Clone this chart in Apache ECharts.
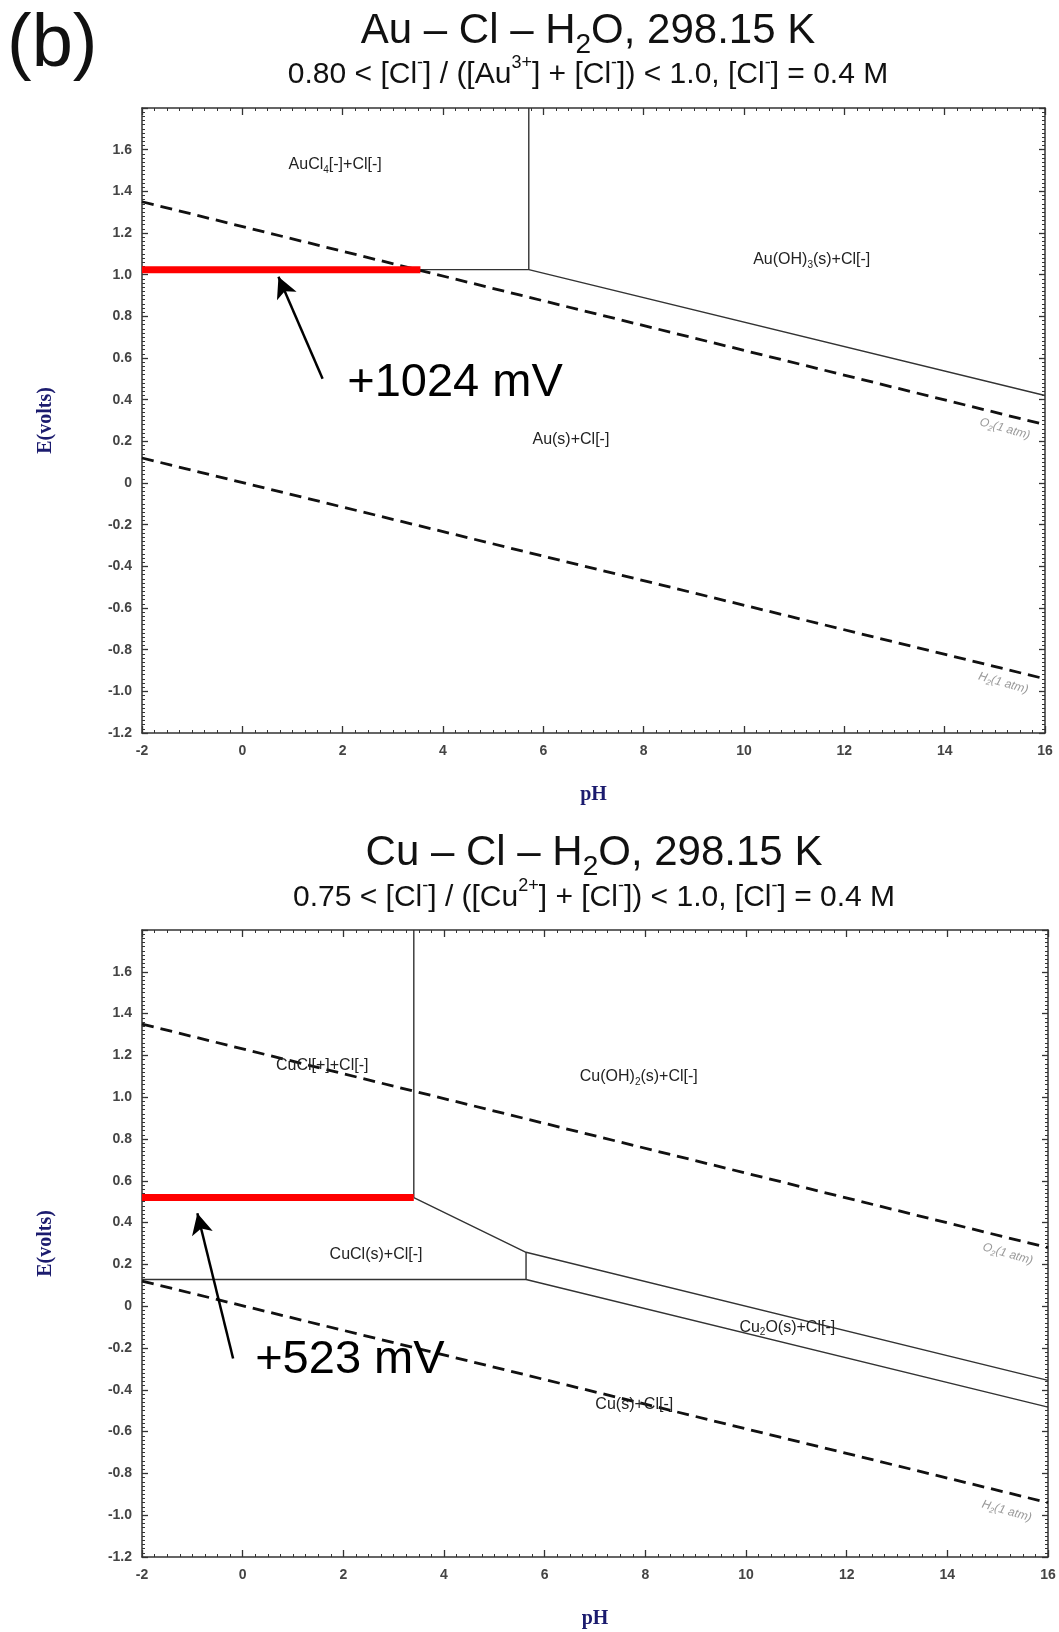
<!DOCTYPE html>
<html>
<head>
<meta charset="utf-8">
<script src="https://cdn.jsdelivr.net/npm/echarts@6/dist/echarts.min.js"></script>
<style>
  html, body { margin: 0; padding: 0; background: #fff; }
  #chart { width: 1059px; height: 1632px; }
</style>
</head>
<body>
<div id="chart"></div>
<script>
  // shared axis ranges
  const phMin = -2
  const phMax = 16
  const eMin = -1.2
  const eMax = 1.8

  // Au - Cl - H2O
  const auO2Line = [[-2, 1.35], [16, 0.28]]
  const auH2Line = [[-2, 0.12], [16, -0.94]]
  const auBoundary = [[3.55, 1.024], [5.71, 1.024], [16, 0.42]]
  const auVertical = [[5.71, 1.024], [5.71, 1.8]]
  const auRedLine = [[-2, 1.024], [3.55, 1.024]]
  const auArrow = [[1.6, 0.5], [0.72, 0.99]]
  const auRegionText = ['AuCl{sub|4}[-]+Cl[-]', 'Au(OH){sub|3}(s)+Cl[-]', 'Au(s)+Cl[-]']
  const auRegionPos = [[1.85, 1.53], [11.35, 1.07], [6.55, 0.21]]
  const auGasPos = [[15.2, 0.26], [15.17, -0.96]]
  const auCallout = ['+1024 mV']
  const auCalloutPos = [[4.24, 0.48]]

  // Cu - Cl - H2O
  const cuO2Line = [[-2, 1.35], [16, 0.28]]
  const cuH2Line = [[-2, 0.12], [16, -0.94]]
  const cuVertical = [[3.4, 0.52], [3.4, 1.8]]
  const cuUpper = [[3.4, 0.52], [5.63, 0.258], [16, -0.355]]
  const cuStep = [[5.63, 0.258], [5.63, 0.128]]
  const cuLower = [[-2, 0.128], [5.63, 0.128], [16, -0.483]]
  const cuRedLine = [[-2, 0.52], [3.4, 0.52]]
  const cuArrow = [[-0.19, -0.25], [-0.9, 0.445]]
  const cuRegionText = ['CuCl[+]+Cl[-]', 'Cu(OH){sub|2}(s)+Cl[-]', 'CuCl(s)+Cl[-]', 'Cu{sub|2}O(s)+Cl[-]', 'Cu(s)+Cl[-]']
  const cuRegionPos = [[1.58, 1.15], [7.87, 1.1], [2.65, 0.245], [10.82, -0.1], [7.78, -0.47]]
  const cuGasPos = [[15.2, 0.25], [15.18, -0.98]]
  const cuCallout = ['+523 mV']
  const cuCalloutPos = [[2.13, -0.26]]

  const gasText = ['O{sub|2}(1 atm)', 'H{sub|2}(1 atm)']

  const sans = 'Liberation Sans, Arial, sans-serif'
  const serif = 'Liberation Serif, Times New Roman, serif'
  const axisColor = '#333'
  const navy = '#1b1b6e'

  const chart = echarts.init(document.getElementById('chart'))

  function xAxes(gi) {
    const base = {
      gridIndex: gi,
      type: 'value',
      min: phMin,
      max: phMax,
      interval: 2,
      axisLine: { show: true, onZero: false, lineStyle: { color: axisColor, width: 1.5 } },
      axisTick: { show: true, inside: true, length: 7, lineStyle: { color: axisColor, width: 1.3 } },
      minorTick: { show: true, splitNumber: 8, length: 3, lineStyle: { color: axisColor, width: 1 } },
      splitLine: { show: false },
    }
    return [
      {
        ...base,
        position: 'bottom',
        axisLabel: { color: '#444', fontSize: 14, fontWeight: 'bold', fontFamily: sans, margin: 11 },
        name: 'pH',
        nameLocation: 'middle',
        nameGap: 52,
        nameTextStyle: { color: navy, fontFamily: serif, fontWeight: 'bold', fontSize: 20 },
      },
      { ...base, position: 'top', axisLabel: { show: false } },
    ]
  }

  function yAxes(gi) {
    const base = {
      gridIndex: gi,
      type: 'value',
      min: eMin,
      max: eMax,
      interval: 0.2,
      axisLine: { show: true, onZero: false, lineStyle: { color: axisColor, width: 1.5 } },
      axisTick: { show: true, inside: true, length: 6, lineStyle: { color: axisColor, width: 1.3 } },
      minorTick: { show: true, splitNumber: 10, length: 3, lineStyle: { color: axisColor, width: 1 } },
      splitLine: { show: false },
    }
    return [
      {
        ...base,
        position: 'left',
        axisLabel: {
          color: '#444',
          fontSize: 14,
          fontWeight: 'bold',
          fontFamily: sans,
          margin: 10,
          formatter: v => (v > 1.79 ? '' : Math.abs(v) < 1e-9 ? '0' : v.toFixed(1)),
        },
        name: 'E(volts)',
        nameLocation: 'middle',
        nameRotate: 90,
        nameGap: 86,
        nameTextStyle: { color: navy, fontFamily: serif, fontWeight: 'bold', fontSize: 20 },
      },
      { ...base, position: 'right', axisLabel: { show: false } },
    ]
  }

  function line(gi, data, style, z) {
    return {
      type: 'line',
      xAxisIndex: gi * 2,
      yAxisIndex: gi * 2,
      data,
      symbol: 'none',
      silent: true,
      animation: false,
      lineStyle: style,
      z,
    }
  }

  function textMarks(gi, pos, texts, label) {
    return {
      type: 'scatter',
      xAxisIndex: gi * 2,
      yAxisIndex: gi * 2,
      data: pos,
      symbolSize: 1,
      itemStyle: { color: 'rgba(0,0,0,0)', opacity: 1 },
      silent: true,
      animation: false,
      z: 10,
      label: {
        show: true,
        position: 'inside',
        opacity: 1,
        formatter: p => texts[p.dataIndex],
        ...label,
      },
    }
  }

  function arrow(gi, pts) {
    return {
      type: 'line',
      xAxisIndex: gi * 2,
      yAxisIndex: gi * 2,
      data: [],
      silent: true,
      animation: false,
      markLine: {
        silent: true,
        animation: false,
        symbol: ['none', 'arrow'],
        symbolSize: [16, 21],
        label: { show: false },
        lineStyle: { color: '#000', width: 2.5, type: 'solid' },
        data: [[{ coord: pts[0] }, { coord: pts[1] }]],
      },
      z: 12,
    }
  }

  const dashed = { color: '#111', width: 2.8, type: [12, 7] }
  const solid = { color: '#333', width: 1.4 }
  const red = { color: '#ff0000', width: 7 }
  const subRich = {
    sub: { fontSize: 10, lineHeight: 21, verticalAlign: 'bottom', fontFamily: sans, color: '#222' },
  }
  const regionLabel = { color: '#222', fontSize: 16, fontFamily: sans, rich: subRich }
  const gasLabel = {
    color: '#9a9a9a',
    fontSize: 12,
    fontStyle: 'italic',
    fontFamily: sans,
    rotate: -16,
    rich: { sub: { fontSize: 8, lineHeight: 16, verticalAlign: 'bottom', color: '#9a9a9a', fontStyle: 'italic' } },
  }
  const calloutLabel = { color: '#000', fontSize: 47, fontFamily: sans }

  const titleRich = {
    sub: { fontSize: 28, lineHeight: 56, verticalAlign: 'bottom', fontFamily: sans, color: '#111' },
  }
  const subRichTitle = {
    sup: { fontSize: 18, lineHeight: 42, verticalAlign: 'top', fontFamily: sans, color: '#111' },
  }

  const option = {
    backgroundColor: '#fff',
    animation: false,
    title: [
      { text: '(b)', left: 7, top: 9, padding: 0, textStyle: { fontSize: 74, fontWeight: 'normal', fontFamily: sans, color: '#111' } },
      {
        text: 'Au – Cl – H{sub|2}O, 298.15 K',
        left: 588, top: 3, textAlign: 'center', padding: 0,
        textStyle: { fontSize: 42, fontWeight: 'normal', fontFamily: sans, color: '#111', rich: titleRich },
      },
      {
        text: '0.80 < [Cl{sup|-}] / ([Au{sup|3+}] + [Cl{sup|-}]) < 1.0, [Cl{sup|-}] = 0.4 M',
        left: 588, top: 54, textAlign: 'center', padding: 0,
        textStyle: { fontSize: 30, fontWeight: 'normal', fontFamily: sans, color: '#111', rich: subRichTitle },
      },
      {
        text: 'Cu – Cl – H{sub|2}O, 298.15 K',
        left: 594, top: 825, textAlign: 'center', padding: 0,
        textStyle: { fontSize: 42, fontWeight: 'normal', fontFamily: sans, color: '#111', rich: titleRich },
      },
      {
        text: '0.75 < [Cl{sup|-}] / ([Cu{sup|2+}] + [Cl{sup|-}]) < 1.0, [Cl{sup|-}] = 0.4 M',
        left: 594, top: 877, textAlign: 'center', padding: 0,
        textStyle: { fontSize: 30, fontWeight: 'normal', fontFamily: sans, color: '#111', rich: subRichTitle },
      },
    ],
    grid: [
      { left: 142, top: 108, width: 903, height: 625, containLabel: false, outerBoundsMode: 'none' },
      { left: 142, top: 930, width: 906, height: 627, containLabel: false, outerBoundsMode: 'none' },
    ],
    xAxis: [...xAxes(0), ...xAxes(1)],
    yAxis: [...yAxes(0), ...yAxes(1)],
    series: [
      // Au panel
      line(0, auBoundary, solid, 3),
      line(0, auVertical, solid, 3),
      line(0, auO2Line, dashed, 4),
      line(0, auH2Line, dashed, 4),
      line(0, auRedLine, red, 6),
      arrow(0, auArrow),
      textMarks(0, auRegionPos, auRegionText, regionLabel),
      textMarks(0, auGasPos, gasText, gasLabel),
      textMarks(0, auCalloutPos, auCallout, calloutLabel),
      // Cu panel
      line(1, cuVertical, solid, 3),
      line(1, cuUpper, solid, 3),
      line(1, cuStep, solid, 3),
      line(1, cuLower, solid, 3),
      line(1, cuO2Line, dashed, 4),
      line(1, cuH2Line, dashed, 4),
      line(1, cuRedLine, red, 6),
      arrow(1, cuArrow),
      textMarks(1, cuRegionPos, cuRegionText, regionLabel),
      textMarks(1, cuGasPos, gasText, gasLabel),
      textMarks(1, cuCalloutPos, cuCallout, calloutLabel),
    ],
  }

  chart.setOption(option)
</script>
</body>
</html>
